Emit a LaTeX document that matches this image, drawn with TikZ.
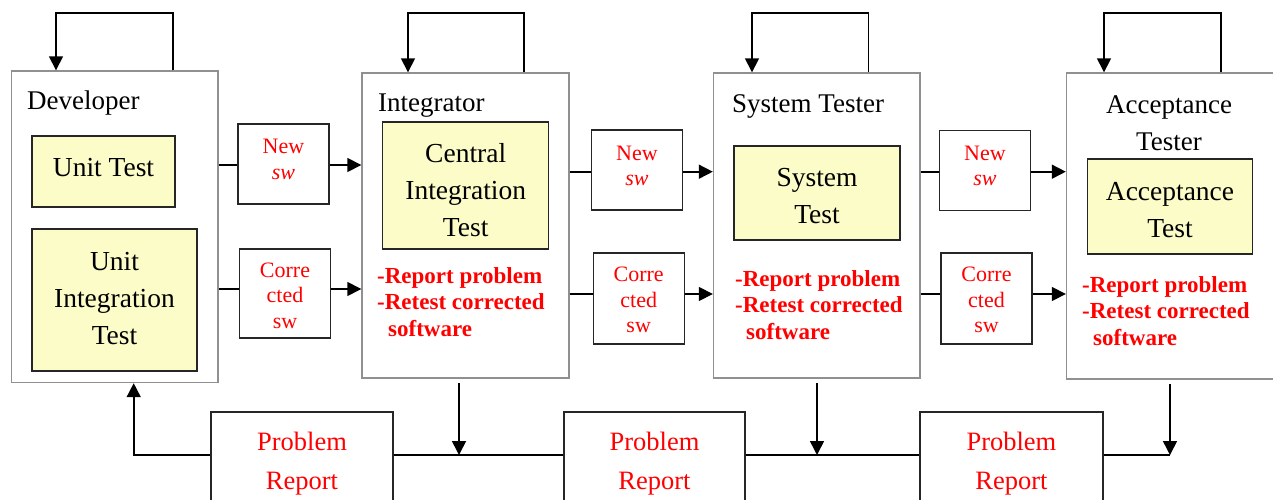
\documentclass[tikz,border=0pt]{standalone}
\usepackage{fontspec}
\setmainfont{Liberation Serif}
\usetikzlibrary{arrows.meta}
\definecolor{outergray}{HTML}{909090}
\definecolor{paleyellow}{HTML}{FCFCC8}
\definecolor{redtxt}{HTML}{FF0000}
\tikzset{
  outer/.style={draw=outergray, line width=1.4pt, fill=white, inner sep=0pt},
  testbox/.style={draw=black!85, line width=1.4pt, fill=paleyellow, inner sep=0pt},
  testtext/.style={align=center, inner sep=0pt, font=\fontsize{27.5}{37}\selectfont},
  swbox/.style={draw=black!85, line width=1.4pt, fill=white, inner sep=0pt, minimum width=91pt},
  swtext/.style={align=center, inner sep=0pt, text=redtxt, font=\fontsize{22}{25.5}\selectfont},
  prbox/.style={draw=black!85, line width=1.4pt, fill=white, align=center, inner sep=0pt,
    text=redtxt, font=\fontsize{26.5}{39}\selectfont, minimum height=104pt},
  role/.style={font=\fontsize{27}{37}\selectfont, inner sep=0pt, align=center},
  dolist/.style={font=\fontsize{23}{26.5}\selectfont\bfseries, text=redtxt, align=left, inner sep=0pt, anchor=west},
  conn/.style={line width=1.6pt, black},
  arr/.style={conn, -{Triangle[width=14pt,length=14pt]}},
}
\begin{document}
\begin{tikzpicture}[x=1pt,y=-1pt]
\fill[white] (0,0) rectangle (1273,500);
\useasboundingbox (0,0) rectangle (1273,500);
\clip (0,0) rectangle (1273,500);

% outer role boxes
\node[outer, minimum width=206.5pt, minimum height=311.5pt] (dev) at (114.75,226.75) {};
\node[outer, minimum width=207pt, minimum height=305pt] (int) at (465.5,225.5) {};
\node[outer, minimum width=206.5pt, minimum height=305pt] (sys) at (816.75,225.5) {};
\node[outer, minimum width=224pt, minimum height=306pt] (acc) at (1178.5,226) {};

% role titles
\node[role, anchor=west] (devt) at (27,103) {Developer};
\node[role, anchor=west] (intt) at (378,105.5) {Integrator};
\node[role, anchor=west] (syst) at (732,106.5) {System Tester};
\node[role] (acct) at (1169,123.5) {Acceptance\\Tester};

% test boxes
\node[testbox, minimum width=143pt, minimum height=71pt] (ut) at (103.5,171.5) {};
\node[testtext] (utt) at (103.5,168) {Unit Test};
\node[testbox, minimum width=165pt, minimum height=142pt] (uit) at (114.5,300) {};
\node[testtext] (uitt) at (114.5,299) {Unit\\Integration\\Test};
\node[testbox, minimum width=166pt, minimum height=127pt] (cit) at (465.7,185.5) {};
\node[testtext] (citt) at (465.7,190) {Central\\Integration\\Test};
\node[testbox, minimum width=166pt, minimum height=94pt] (st) at (817,193) {};
\node[testtext] (stt) at (817,196) {System\\Test};
\node[testbox, minimum width=165pt, minimum height=95pt] (at) at (1170,206.5) {};
\node[testtext] (att) at (1170,210.5) {Acceptance\\Test};

% red action lists
\node[dolist] (intl) at (377,302) {-Report problem\\-Retest corrected\\\hspace*{11pt}software};
\node[dolist] (sysl) at (735,305) {-Report problem\\-Retest corrected\\\hspace*{11pt}software};
\node[dolist] (accl) at (1082,311) {-Report problem\\-Retest corrected\\\hspace*{11pt}software};

% new sw / corrected sw boxes
\node[swbox, minimum height=80pt] (n1) at (283.5,164) {};
\node[swtext] (n1t) at (283.5,159.5) {New\\\textit{sw}};
\node[swbox, minimum height=80pt] (n2) at (637,170) {};
\node[swtext] (n2t) at (637,166) {New\\\textit{sw}};
\node[swbox, minimum height=80pt] (n3) at (985,170.3) {};
\node[swtext] (n3t) at (985,166) {New\\\textit{sw}};
\node[swbox, minimum height=89pt] (c1) at (285,293.3) {};
\node[swtext] (c1t) at (285,295.5) {Corre\\cted\\sw};
\node[swbox, minimum height=91pt] (c2) at (638.7,298.3) {};
\node[swtext] (c2t) at (638.7,300) {Corre\\cted\\sw};
\node[swbox, minimum height=91pt] (c3) at (986.5,298.3) {};
\node[swtext] (c3t) at (986.5,300) {Corre\\cted\\sw};

% problem report boxes
\node[prbox, minimum width=182pt] (pr1) at (302,464) {Problem\\Report};
\node[prbox, minimum width=181pt] (pr2) at (654.5,464) {Problem\\Report};
\node[prbox, minimum width=183pt] (pr3) at (1011.4,464) {Problem\\Report};

% forward flow
\coordinate (yn1) at (0,165);   \coordinate (yc1) at (0,289);
\coordinate (yn2) at (0,171.7); \coordinate (yc2) at (0,294);
\draw[conn] (dev.east |- yn1) -- (n1.west |- yn1);
\draw[arr] (n1.east |- yn1) -- (int.west |- yn1);
\draw[conn] (dev.east |- yc1) -- (c1.west |- yc1);
\draw[arr] (c1.east |- yc1) -- (int.west |- yc1);
\draw[conn] (int.east |- yn2) -- (n2.west |- yn2);
\draw[arr] (n2.east |- yn2) -- (sys.west |- yn2);
\draw[conn] (int.east |- yc2) -- (c2.west |- yc2);
\draw[arr] (c2.east |- yc2) -- (sys.west |- yc2);
\draw[conn] (sys.east |- yn2) -- (n3.west |- yn2);
\draw[arr] (n3.east |- yn2) -- (acc.west |- yn2);
\draw[conn] (sys.east |- yc2) -- (c3.west |- yc2);
\draw[arr] (c3.east |- yc2) -- (acc.west |- yc2);

% self loops
\coordinate (dl1) at (173,13); \coordinate (dl2) at (56,13);
\draw[arr] (dev.north -| dl1) -- (dl1) -- (dl2) -- (dev.north -| dl2);
\coordinate (il1) at (524,13); \coordinate (il2) at (408,13);
\draw[arr] (int.north -| il1) -- (il1) -- (il2) -- (int.north -| il2);
\coordinate (sl1) at (868.5,13); \coordinate (sl2) at (752,13);
\draw[arr] (sys.north -| sl1) -- (sl1) -- (sl2) -- (sys.north -| sl2);
\coordinate (al1) at (1221,13); \coordinate (al2) at (1104,13);
\draw[arr] (acc.north -| al1) -- (al1) -- (al2) -- (acc.north -| al2);

% problem report flow
\coordinate (bus) at (0,455);
\coordinate (d1) at (133.7,455);
\draw[arr] (pr1.west |- bus) -- (d1) -- (d1 |- dev.south);
\draw[conn] (pr1.east |- bus) -- (pr2.west |- bus);
\draw[conn] (pr2.east |- bus) -- (pr3.west |- bus);
\coordinate (i1) at (459,383);
\draw[arr] (i1) -- (i1 |- bus);
\coordinate (s1) at (817,383);
\draw[arr] (s1) -- (s1 |- bus);
\coordinate (a1) at (1170,384);
\draw[conn] (pr3.east |- bus) -- (a1 |- bus);
\draw[arr] (a1) -- (a1 |- bus);
\end{tikzpicture}
\end{document}
